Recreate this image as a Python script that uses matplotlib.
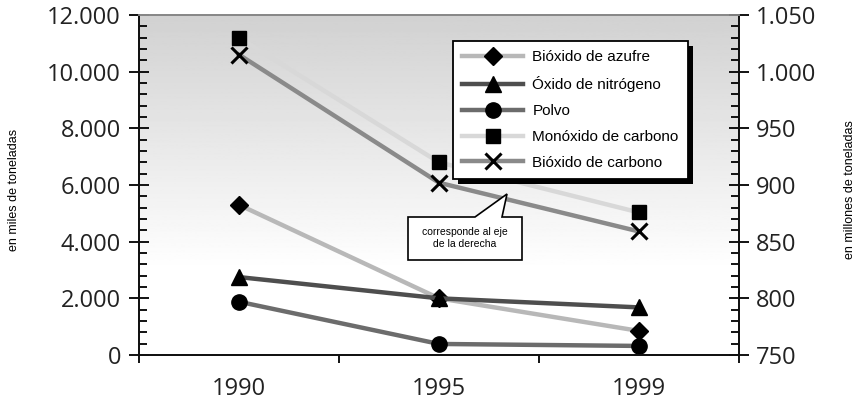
import matplotlib.pyplot as plt
import numpy as np
from matplotlib.patches import Polygon, Rectangle
from matplotlib.ticker import MultipleLocator, FuncFormatter
from matplotlib.transforms import IdentityTransform

years = ["1990", "1995", "1999"]

# left axis, miles de toneladas
bioxido_azufre = [5300, 2000, 850]
oxido_nitrogeno = [2750, 2000, 1680]
polvo = [1880, 390, 320]
monoxido_carbono = [11200, 6800, 5030]
# right axis, millones de toneladas
bioxido_carbono = [1015, 902, 859]

left_series = [
    ("Bióxido de azufre", bioxido_azufre, "#b8b8b8", "D", 9),
    ("Óxido de nitrógeno", oxido_nitrogeno, "#4e4e4e", "^", 12),
    ("Polvo", polvo, "#6c6c6c", "o", 11),
    ("Monóxido de carbono", monoxido_carbono, "#d8d8d8", "s", 10),
]

TICK_FONT = "Open Sans"
TEXT_FONT = "Liberation Sans"


def thousands(v, _pos):
    return f"{int(round(v)):,}".replace(",", ".")


def main() -> None:
    fig = plt.figure(figsize=(8.58, 4.04), dpi=100)
    ax = fig.add_axes([139 / 858, 1 - 355 / 404, 600 / 858, 340 / 404])
    ax2 = ax.twinx()

    # background gradient, grey on top fading to white
    grad = np.clip(np.linspace(1.06, 0.82, 256), 0, 1).reshape(-1, 1)
    ax.imshow(grad, cmap="gray", vmin=0, vmax=1, aspect="auto",
              extent=(0, 1, 0, 1), transform=ax.transAxes, zorder=0,
              origin="lower")

    xs = np.arange(len(years)) + 0.5
    handles = []
    for label, vals, color, marker, ms in left_series:
        (h,) = ax.plot(xs, vals, color=color, lw=3.2, marker=marker, ms=ms,
                       mfc="black", mec="black", label=label, zorder=3)
        handles.append(h)
    (h2,) = ax2.plot(xs, bioxido_carbono, color="#8a8a8a", lw=3.2, marker="x",
                     ms=11, mew=2.2, mec="black", label="Bióxido de carbono",
                     zorder=3)
    handles.append(h2)

    ax.set_xlim(0, 3)
    ax.set_ylim(0, 12000)
    ax2.set_ylim(750, 1050)

    ax.set_xticks([0, 1, 2, 3])
    ax.set_xticklabels([])
    ax.set_xticks(xs, minor=True)
    ax.set_xticklabels(years, minor=True, fontsize=17, family=TICK_FONT,
                       color="#222222")
    ax.tick_params(axis="x", which="major", direction="out", length=6, width=1.3)
    ax.tick_params(axis="x", which="minor", length=0, pad=16)

    ax.yaxis.set_major_locator(MultipleLocator(2000))
    ax.yaxis.set_minor_locator(MultipleLocator(400))
    ax.yaxis.set_major_formatter(FuncFormatter(thousands))
    ax.tick_params(axis="y", which="major", direction="inout", length=14,
                   width=1.3, pad=6, labelsize=17)
    ax.tick_params(axis="y", which="minor", direction="in", length=6, width=1.3)

    ax2.yaxis.set_major_locator(MultipleLocator(50))
    ax2.yaxis.set_minor_locator(MultipleLocator(10))
    ax2.yaxis.set_major_formatter(FuncFormatter(thousands))
    ax2.tick_params(axis="y", which="major", direction="inout", length=14,
                    width=1.3, pad=5, labelsize=17)
    ax2.tick_params(axis="y", which="minor", direction="in", length=6, width=1.3)
    for a in (ax, ax2):
        for t in a.get_yticklabels():
            t.set_family(TICK_FONT)
            t.set_color("#222222")

    for a in (ax, ax2):
        a.spines["top"].set_color("#888888")
        a.spines["top"].set_linewidth(1.3)
        for s in ("left", "right", "bottom"):
            a.spines[s].set_linewidth(1.3)
            a.spines[s].set_color("#111111")

    fig.text(14 / 858, 1 - 190 / 404, "en miles de toneladas", rotation=90,
             ha="center", va="center", fontsize=9, family=TEXT_FONT)
    fig.text(850 / 858, 1 - 190 / 404, "en millones de toneladas", rotation=90,
             ha="center", va="center", fontsize=9, family=TEXT_FONT)

    leg = ax2.legend(handles=handles, loc="upper left",
                     bbox_to_anchor=(453 / 858, 1 - 41 / 404),
                     bbox_transform=fig.transFigure, borderaxespad=0,
                     fancybox=False, framealpha=1, edgecolor="black",
                     handlelength=4.0, handletextpad=0.6, labelspacing=0.78,
                     borderpad=0.6, prop={"family": TEXT_FONT, "size": 11})
    leg.get_frame().set_linewidth(1.3)
    leg.set_zorder(6)

    fig.canvas.draw()
    bb = leg.get_window_extent()
    ax2.add_patch(Rectangle((bb.x0 + 5, bb.y0 - 5), bb.width, bb.height,
                            transform=IdentityTransform(), facecolor="black",
                            edgecolor="none", clip_on=False, zorder=5))

    # callout "corresponde al eje de la derecha"
    H = 404
    pts = [(408, 217), (475, 217), (507, 194), (502, 217), (522, 217),
           (522, 260), (408, 260)]
    verts = [(x / 858, 1 - y / H) for x, y in pts]
    fig.patches.append(Polygon(verts, closed=True, facecolor="white",
                               edgecolor="black", lw=1.2,
                               transform=fig.transFigure, zorder=4))
    fig.text(465 / 858, 1 - 238 / H, "corresponde al eje\nde la derecha",
             ha="center", va="center", fontsize=7.5, family=TEXT_FONT,
             linespacing=1.3, zorder=5)

    fig.savefig("out.png", dpi=100)
    plt.close(fig)


if __name__ == "__main__":
    main()
